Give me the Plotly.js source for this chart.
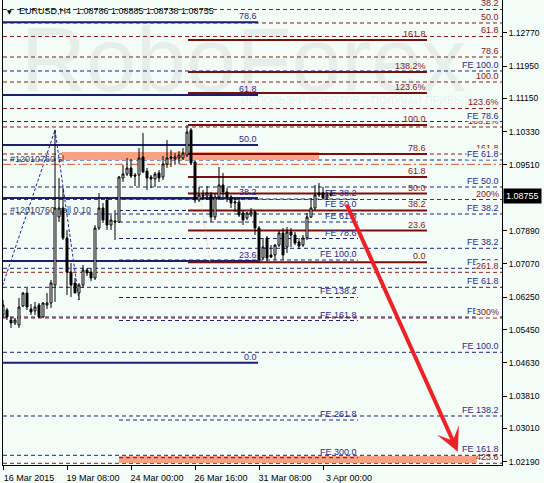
<!DOCTYPE html>
<html><head><meta charset="utf-8">
<script src="https://cdn.plot.ly/plotly-3.0.1.min.js"></script>
<style>html,body{margin:0;padding:0;background:#F4FCF8;}#chart{width:544px;height:483px;}</style>
</head><body><div id="chart"></div>
<script>
// ---------- DATA ----------
const chartTitle = "EURUSD,H4\u00a0 1.08786 1.08885 1.08738 1.08755";
const xTickBars = [0, 16, 32, 48, 64, 80];
const xTickText = ["16 Mar 2015", "19 Mar 08:00", "24 Mar 00:00", "26 Mar 16:00", "31 Mar 08:00", "3 Apr 00:00"];
const yTickVals = [1.12770, 1.11950, 1.11150, 1.10330, 1.09510, 1.07890, 1.07070, 1.06250, 1.05450, 1.04630, 1.03810, 1.03010, 1.02190];
const yTickText = ["1.12770", "1.11950", "1.11150", "1.10330", "1.09510", "1.07890", "1.07070", "1.06250", "1.05450", "1.04630", "1.03810", "1.03010", "1.02190"];
const lastPrice = 1.08755;
const lastPriceText = "1.08755";

// H4 candles, 16 Mar 2015 16:00 -> 3 Apr 2015 08:00
const open  = [1.05809,1.05932,1.05685,1.05611,1.05562,1.06031,1.06351,1.05957,1.05908,1.06056,
               1.05760,1.06056,1.06105,1.06549,1.08226,1.08448,1.07708,1.06869,1.06598,1.06351,
               1.06549,1.06919,1.06869,1.06721,1.07955,1.08448,1.08646,1.08029,1.08128,1.08103,
               1.09188,1.09287,1.09435,1.09262,1.09262,1.09706,1.09361,1.09213,1.09164,1.09312,
               1.09213,1.09534,1.09706,1.09658,1.09682,1.09682,1.09756,1.10372,1.09583,1.08646,
               1.08769,1.08744,1.08769,1.08226,1.08720,1.09016,1.08843,1.08720,1.08572,1.08596,
               1.08325,1.08202,1.08275,1.08349,1.07955,1.07215,1.07708,1.07289,1.07289,1.07535,
               1.07832,1.07486,1.07856,1.07782,1.07609,1.07535,1.07708,1.08226,1.08448,1.08818,
               1.08818,1.08695,1.08786];
const high  = [1.06179,1.05982,1.05760,1.05735,1.06228,1.06376,1.06475,1.06080,1.06130,1.06105,
               1.06130,1.06351,1.06672,1.10372,1.09188,1.08942,1.07906,1.07091,1.06721,1.06598,
               1.07042,1.06968,1.06968,1.08029,1.08818,1.08572,1.08720,1.08275,1.08399,1.09238,
               1.09509,1.09682,1.09658,1.09312,1.09928,1.10298,1.09435,1.09262,1.09336,1.09386,
               1.09731,1.10126,1.09879,1.09805,1.09854,1.09928,1.10496,1.10422,1.09608,1.08966,
               1.08892,1.08991,1.08843,1.08818,1.09460,1.09312,1.08942,1.08769,1.08695,1.08695,
               1.08399,1.08349,1.08448,1.08399,1.08004,1.07708,1.07757,1.07535,1.07560,1.07881,
               1.07955,1.07980,1.07955,1.07856,1.07708,1.07782,1.08325,1.08695,1.09016,1.09065,
               1.08966,1.08843,1.08885];
const low   = [1.05735,1.05685,1.05488,1.05562,1.05488,1.06006,1.05932,1.05809,1.05809,1.05735,
               1.05735,1.05957,1.05982,1.06130,1.08103,1.07659,1.06302,1.06253,1.06351,1.06179,
               1.06475,1.06770,1.06647,1.06672,1.07906,1.08078,1.07906,1.07906,1.07659,1.08078,
               1.09090,1.09238,1.09188,1.08991,1.08991,1.09312,1.08892,1.08942,1.08966,1.09090,
               1.09139,1.09435,1.09460,1.09534,1.09534,1.09633,1.09706,1.09509,1.08572,1.08596,
               1.08646,1.08646,1.08103,1.08152,1.08646,1.08720,1.08596,1.08448,1.08349,1.08226,
               1.08029,1.08152,1.08226,1.07782,1.07109,1.07165,1.07140,1.07215,1.07165,1.07486,
               1.07165,1.07338,1.07486,1.07535,1.07436,1.07486,1.07659,1.08202,1.08399,1.08720,
               1.08671,1.08646,1.08738];
const close = [1.06056,1.05760,1.05611,1.05685,1.06006,1.06351,1.06006,1.05883,1.06006,1.05760,
               1.06105,1.06105,1.06598,1.08448,1.08448,1.07708,1.06869,1.06549,1.06351,1.06549,
               1.06919,1.06845,1.06721,1.07955,1.08448,1.08152,1.08029,1.08152,1.08103,1.09213,
               1.09287,1.09435,1.09238,1.09238,1.09682,1.09336,1.09188,1.09164,1.09287,1.09188,
               1.09534,1.09682,1.09682,1.09706,1.09756,1.09805,1.10323,1.09558,1.08646,1.08769,
               1.08744,1.08818,1.08226,1.08720,1.09016,1.08843,1.08720,1.08572,1.08596,1.08275,
               1.08152,1.08325,1.08349,1.07955,1.07165,1.07486,1.07215,1.07239,1.07535,1.07832,
               1.07289,1.07856,1.07782,1.07585,1.07510,1.07708,1.08226,1.08448,1.08769,1.08769,
               1.08695,1.08769,1.08755];

// Fibonacci retracement (navy, solid)
const navyFiboLevels = ["78.6", "61.8", "50.0", "38.2", "23.6", "0.0"];
const navyFiboPrices = [1.13029, 1.11236, 1.10002, 1.08695, 1.07141, 1.04632];
const navyFiboBars = [-8, 63.75];
// Fibonacci retracement (dark red, solid)
const redFiboLevels = ["161.8", "138.2%", "123.6%", "100.0", "78.6", "61.8", "50.0", "38.2", "23.6", "0.0"];
const redFiboPrices = [1.12592, 1.11803, 1.11285, 1.10496, 1.09780, 1.09213, 1.08806, 1.08387, 1.07893, 1.07109];
const redFiboBars = [46.25, 106];
// Fibonacci expansion (mid, navy dashed)
const feMidLevels = ["FE 38.2", "FE 50.0", "FE 61.8", "FE 78.6", "FE 100.0", "FE 138.2", "FE 161.8", "FE 261.8", "FE 300.0"];
const feMidPrices = [1.08670, 1.08387, 1.08103, 1.07696, 1.07165, 1.06241, 1.05673, 1.03219, 1.02289];
const feMidBars = [29, 88.75];
// Fibonacci expansions across whole chart (navy dashed)
const feUpLevels = ["FE 100.0", "FE 78.6", "FE 61.8", "FE 50.0", "FE 38.2"];
const feUpPrices = [1.11828, 1.10582, 1.09632, 1.08966, 1.08300];
const feDownLevels = ["FE 38.2", "FE 50.0", "FE 61.8", "FE 78.6", "FE 100.0", "FE 138.2", "FE 161.8"];
const feDownPrices = [1.07454, 1.06961, 1.06492, 1.05760, 1.04889, 1.03318, 1.02348];
// Fibonacci extension across whole chart (dark red dashed)
const redExtLevels = ["38.2", "50.0", "61.8", "78.6", "100.0", "123.6%", "138.2%", "161.8", "200%", "261.8", "300%", "423.6"];
const redExtPrices = [1.13345, 1.13012, 1.12679, 1.12173, 1.11556, 1.10903, 1.10446, 1.09780, 1.08658, 1.06862, 1.05735, 1.02151];
// order
const stopLossPrice = 1.09526;
const orderTexts = ["#12010760 sl", "#12010760 sell 0.10"];
const orderTextPrices = [1.09682, 1.08424];
const orderTextBar = 1.75;
// target zones
const zoneStartBars = [14.75, 29];
const zoneEndBars = [79, 118.5];
const zoneTops = [1.09830, 1.02331];
const zoneBottoms = [1.09632, 1.02158];
// expansion trend points (A-B-C)
const feTrendBars = [-6.5, 13, 19];
const feTrendPrices = [1.04660, 1.10372, 1.06179];
const faintLineBars = [48.75, 51.75];
const faintLinePrices = [1.09139, 1.07116];
// forecast arrow
const arrowBars = [85.75, 113.7];
const arrowPrices = [1.08572, 1.02437];

// ---------- STYLE ----------
const FONT = "Liberation Sans, Arial, sans-serif";
const BG = "#F4FCF8";
const NAVY_SOLID = "#1E1E6E", NAVY_DASH = "#22227E", RED_SOLID = "#7E0D0D", RED_DASH = "#8B1A1A";
const LBL_NAVY = "#2A2A8C", LBL_RED = "#8C1818";
const DASH = "4px,3px";

const bars = open.map((_, i) => i);
const shapes = [];
const hline = (xref, x0, x1, p, color, width, dash) => ({
  type: "line", xref, yref: "y", x0, x1, y0: p, y1: p,
  line: { color, width, dash: dash || "solid" }, layer: "below"
});

zoneStartBars.forEach((s, k) => shapes.push({
  type: "rect", xref: "x", yref: "y", x0: s, x1: zoneEndBars[k], y0: zoneBottoms[k], y1: zoneTops[k],
  fillcolor: "#F8A283", line: { width: 0 }, layer: "below"
}));
redExtPrices.forEach(p => shapes.push(hline("paper", 0, 1, p, RED_DASH, 1, DASH)));
feUpPrices.concat(feDownPrices).forEach(p => shapes.push(hline("paper", 0, 1, p, NAVY_DASH, 1, DASH)));
feMidPrices.forEach(p => shapes.push(hline("x", feMidBars[0], feMidBars[1], p, NAVY_DASH, 1, DASH)));
shapes.push(hline("paper", 0, 1, stopLossPrice, "#E0521E", 1, "8px,3px,2px,3px"));
navyFiboPrices.forEach(p => shapes.push(hline("x", navyFiboBars[0], navyFiboBars[1], p, NAVY_SOLID, 2)));
redFiboPrices.forEach(p => shapes.push(hline("x", redFiboBars[0], redFiboBars[1], p, RED_SOLID, 2)));
for (let k = 0; k < feTrendBars.length - 1; k++) {
  shapes.push({ type: "line", xref: "x", yref: "y", x0: feTrendBars[k], y0: feTrendPrices[k],
    x1: feTrendBars[k + 1], y1: feTrendPrices[k + 1], line: { color: "#2323A0", width: 1, dash: "3px,2px" }, layer: "below" });
}
shapes.push({ type: "line", xref: "x", yref: "y", x0: faintLineBars[0], y0: faintLinePrices[0],
  x1: faintLineBars[1], y1: faintLinePrices[1], line: { color: "#F3CDB0", width: 1, dash: "2px,2px" }, layer: "below" });
orderTexts.forEach((t, k) => shapes.push({
  type: "line", xref: "x", yref: "y", x0: orderTextBar, x1: orderTextBar + 30, y0: orderTextPrices[k], y1: orderTextPrices[k],
  line: { color: "rgba(0,0,0,0)", width: 1 }, layer: "below",
  label: { text: t, textposition: "start", xanchor: "left", yanchor: "middle", padding: 0,
           font: { family: FONT, size: 9, color: "#3A3A5C" } }
}));

// ---------- ANNOTATIONS ----------
const ann = [];
ann.push({ xref: "paper", yref: "paper", x: 0.481, y: 0.872, xanchor: "center", yanchor: "middle", text: "RoboForex", showarrow: false,
  font: { family: FONT, size: 90, color: "rgba(80,100,95,0.09)" } });
ann.push({ xref: "paper", yref: "paper", x: 0.713, y: 0.785, xanchor: "center", yanchor: "middle", text: "ИСПОЛЬЗУЙ РОБОТОВ – ПОЛУЧАЙ ПРИБЫЛЬ", showarrow: false,
  font: { family: FONT, size: 10.5, color: "rgba(80,100,95,0.09)" } });
const lab = (xref, x, p, text, color, extra) => Object.assign({
  xref, x, yref: "y", y: p, text, showarrow: false, xanchor: "right", yanchor: "bottom",
  borderpad: 0, font: { family: FONT, size: 9, color }
}, extra || {});
navyFiboLevels.forEach((t, k) => ann.push(lab("x", navyFiboBars[1], navyFiboPrices[k], t, LBL_NAVY)));
redFiboLevels.forEach((t, k) => ann.push(lab("x", redFiboBars[1], redFiboPrices[k], t, LBL_RED)));
feMidLevels.forEach((t, k) => ann.push(lab("x", feMidBars[1], feMidPrices[k], t, LBL_NAVY)));
const overlayRed = ["261.8", "300%"];
const overlayFe = ["FE 78.6", "FE 61.8"];
redExtLevels.forEach((t, k) => { if (!overlayRed.includes(t)) ann.push(lab("paper", 1, redExtPrices[k], t, LBL_RED, { xshift: -2 })); });
feDownLevels.forEach((t, k) => ann.push(lab("paper", 1, feDownPrices[k], t, LBL_NAVY, { xshift: -2 })));
feUpLevels.forEach((t, k) => ann.push(lab("paper", 1, feUpPrices[k], t, LBL_NAVY,
  overlayFe.includes(t) ? { xshift: -2, bgcolor: BG } : { xshift: -2 })));
redExtLevels.forEach((t, k) => { if (overlayRed.includes(t)) ann.push(lab("paper", 1, redExtPrices[k], t, LBL_RED, { xshift: -2, bgcolor: BG })); });

ann.push({ xref: "paper", yref: "paper", x: 0.004, y: 0.976, text: "▼", showarrow: false, xanchor: "left", yanchor: "middle",
  font: { family: "DejaVu Sans", size: 6, color: "#000" } });
ann.push({ xref: "paper", yref: "paper", x: 0.028, y: 0.976, text: chartTitle, showarrow: false, xanchor: "left", yanchor: "middle",
  font: { family: FONT, size: 9, color: "#000" } });
ann.push({ xref: "paper", x: 1, yref: "y", y: lastPrice, text: lastPriceText, showarrow: false, xanchor: "left", yanchor: "middle",
  bgcolor: "#000000", borderpad: 2, xshift: 1, font: { family: FONT, size: 9, color: "#FFFFFF" } });
ann.push({ xref: "x", yref: "y", axref: "x", ayref: "y", x: arrowBars[1], y: arrowPrices[1], ax: arrowBars[0], ay: arrowPrices[0],
  text: "", showarrow: true, arrowhead: 3, arrowsize: 1, arrowwidth: 4, arrowcolor: "#EE2127" });

// ---------- TRACES ----------
const data = [{
  type: "candlestick", x: bars, open, high, low, close,
  increasing: { line: { color: "#000000", width: 1 }, fillcolor: "#FFFFFF" },
  decreasing: { line: { color: "#000000", width: 1 }, fillcolor: "#000000" },
  whiskerwidth: 0, hoverinfo: "skip", showlegend: false
}];

const layout = {
  width: 544, height: 483, margin: { l: 3, r: 42, t: 0, b: 18, pad: 0 },
  paper_bgcolor: BG, plot_bgcolor: BG, showlegend: false,
  xaxis: { range: [0, 124.75], tickvals: xTickBars, ticktext: xTickText, ticks: "outside", ticklen: 4, tickcolor: "#000",
    showgrid: false, zeroline: false, showline: true, linecolor: "#000", linewidth: 1, rangeslider: { visible: false },
    ticklabelshift: 26, tickfont: { family: FONT, size: 9, color: "#000" }, fixedrange: true },
  yaxis: { side: "right", range: [1.02109, 1.13579], tickvals: yTickVals, ticktext: yTickText, ticks: "outside", ticklen: 4,
    tickcolor: "#000", showgrid: false, zeroline: false, showline: true, mirror: true, linecolor: "#000", linewidth: 1,
    tickfont: { family: FONT, size: 8.5, color: "#000" }, fixedrange: true },
  shapes, annotations: ann
};
Plotly.newPlot("chart", data, layout, { displayModeBar: false, staticPlot: true });
</script></body></html>
